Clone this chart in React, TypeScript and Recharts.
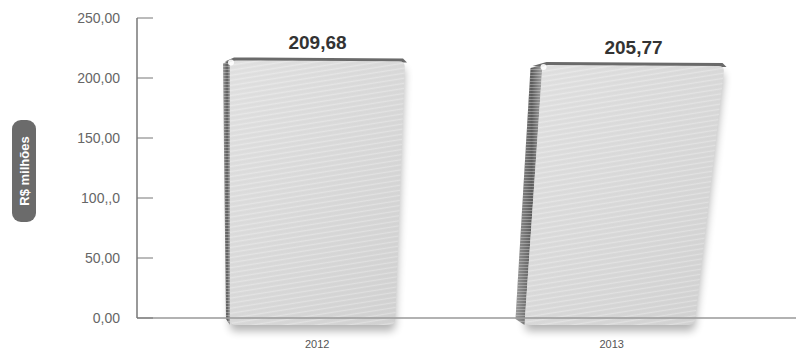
import React from "react";
import {
  Bar,
  BarChart,
  LabelList,
  XAxis,
  YAxis,
} from "recharts";

const years = ["2012", "2013"];
const receita = [209.68, 205.77];
const valueLabels = ["209,68", "205,77"];
const yTicks = [0, 50, 100, 150, 200, 250];
const yTickLabels = ["0,00", "50,00", "100,,0", "150,00", "200,00", "250,00"];
const axisTitle = "R$ milhões";

const data = years.map((year, i) => ({ year, value: receita[i], label: valueLabels[i] }));

// each "book" leans a little differently
const lean = [
  { tl: 0, tr: 0, bl: 0, br: -10, side: 7 },
  { tl: 18, tr: 25, bl: 0, br: -5, side: 12 },
];

const FONT = "'Liberation Sans Narrow', 'Liberation Sans', Arial, sans-serif";

function roundedQuad(p: number[][], r: number) {
  // p: tl, tr, br, bl
  const n = p.length;
  let d = "";
  for (let i = 0; i < n; i++) {
    const prev = p[(i + n - 1) % n];
    const cur = p[i];
    const next = p[(i + 1) % n];
    const v1 = [prev[0] - cur[0], prev[1] - cur[1]];
    const v2 = [next[0] - cur[0], next[1] - cur[1]];
    const l1 = Math.hypot(v1[0], v1[1]);
    const l2 = Math.hypot(v2[0], v2[1]);
    const a = [cur[0] + (v1[0] / l1) * r, cur[1] + (v1[1] / l1) * r];
    const b = [cur[0] + (v2[0] / l2) * r, cur[1] + (v2[1] / l2) * r];
    d += `${i === 0 ? "M" : "L"}${a[0]},${a[1]} Q${cur[0]},${cur[1]} ${b[0]},${b[1]} `;
  }
  return d + "Z";
}

function BookBar(props: any) {
  const { x, y, width, height, index } = props;
  const s = lean[index] ?? lean[0];
  const top = y - 6;
  const bot = y + height + 7;
  const L = x;
  const R = x + width;
  const front = [
    [L + s.tl, top],
    [R + s.tr, top + 1],
    [R + s.br, bot],
    [L + s.bl, bot],
  ];
  const frontPath = roundedQuad(front, 6);
  const side = `M${L + s.tl - s.side},${top + 3} L${L + s.tl},${top} L${L + s.bl},${bot} L${L + s.bl - s.side + 3},${bot - 6} Z`;
  const topEdge = `M${L + s.tl - s.side + 2},${top + 1} L${L + s.tl + 4},${top - 3} L${R + s.tr - 2},${top - 2} L${R + s.tr + 2},${top + 2} L${L + s.tl + 2},${top + 2} Z`;
  return (
    <g>
      <path d={frontPath} fill="#000" filter="url(#bookShadow)" />
      <path d={side} fill="url(#sideGrad)" />
      <path d={side} fill="url(#sideStripes)" />
      <path d={topEdge} fill="#6a6a6a" />
      <path d={frontPath} fill="url(#frontGrad)" />
      <path d={frontPath} fill="url(#frontStripes)" />
      <circle cx={L + s.tl + 1} cy={top + 2} r={3} fill="#fff" opacity={0.9} />
    </g>
  );
}

function YTick(props: any) {
  const { x, y, payload } = props;
  const i = yTicks.indexOf(payload.value);
  return (
    <g>
      <line x1={x + 17} x2={x + 33} y1={y} y2={y} stroke="#777" strokeWidth={1} />
      <text x={x} y={y} dy={5} textAnchor="end" fill="#666" fontSize={14} fontFamily={FONT}>
        {yTickLabels[i]}
      </text>
    </g>
  );
}

function AxisTitle() {
  const cx = 24;
  const cy = 171;
  return (
    <g>
      <rect x={cx - 12} y={cy - 51} width={24} height={102} rx={9} fill="#6b6b6b" />
      <text
        x={cx}
        y={cy}
        transform={`rotate(-90 ${cx} ${cy})`}
        textAnchor="middle"
        dy={5}
        fill="#fff"
        fontWeight="bold"
        fontSize={13}
        fontFamily={FONT}
      >
        {axisTitle}
      </text>
    </g>
  );
}

function ValueLabel(props: any) {
  const { x, y, width, index, value } = props;
  const s = lean[index] ?? lean[0];
  const cx = x + width / 2 + (s.tl + s.tr) / 2;
  return (
    <text x={cx} y={y - 17} textAnchor="middle" fill="#333" fontWeight="bold" fontSize={19} fontFamily={FONT}>
      {value}
    </text>
  );
}

export default function App() {
  return (
    <div style={{ position: "absolute", left: 0, top: 0, background: "#fff" }}>
      <BarChart
        width={796}
        height={350}
        data={data}
        margin={{ top: 18, right: 0, bottom: 0, left: 0 }}
        barCategoryGap={0}
      >
        <defs>
          <linearGradient id="frontGrad" x1="0" y1="0" x2="1" y2="1">
            <stop offset="0%" stopColor="#e2e2e2" />
            <stop offset="100%" stopColor="#d2d2d2" />
          </linearGradient>
          <linearGradient id="sideGrad" x1="0" y1="0" x2="1" y2="0">
            <stop offset="0%" stopColor="#9a9a9a" />
            <stop offset="60%" stopColor="#5c5c5c" />
            <stop offset="100%" stopColor="#a8a8a8" />
          </linearGradient>
          <pattern id="frontStripes" width="60" height="5" patternUnits="userSpaceOnUse" patternTransform="rotate(-9)">
            <rect width="60" height="1" fill="#ffffff" opacity={0.25} />
            <rect y="2.5" width="60" height="0.8" fill="#b8b8b8" opacity={0.18} />
          </pattern>
          <pattern id="sideStripes" width="20" height="3" patternUnits="userSpaceOnUse">
            <rect width="20" height="1" fill="#dddddd" opacity={0.4} />
          </pattern>
          <filter id="bookShadow" x="-20%" y="-20%" width="140%" height="140%">
            <feGaussianBlur stdDeviation="4" />
            <feOffset dx="0" dy="6" />
            <feComponentTransfer>
              <feFuncA type="linear" slope="0.3" />
            </feComponentTransfer>
          </filter>
        </defs>
        <XAxis
          dataKey="year"
          height={32}
          padding={{ left: 33, right: 37 }}
          axisLine={{ stroke: "#999", strokeWidth: 1.5 }}
          tickLine={false}
          tickMargin={16}
          tick={{ fill: "#555", fontSize: 11, fontFamily: FONT }}
        />
        <YAxis
          width={137}
          domain={[0, 250]}
          ticks={yTicks}
          tickSize={0}
          tickMargin={17}
          tickLine={false}
          axisLine={{ stroke: "#777", strokeWidth: 1.5 }}
          tick={<YTick />}
          label={<AxisTitle />}
        />
        <Bar dataKey="value" barSize={175} shape={<BookBar />} isAnimationActive={false}>
          <LabelList dataKey="label" content={<ValueLabel />} />
        </Bar>
      </BarChart>
    </div>
  );
}
